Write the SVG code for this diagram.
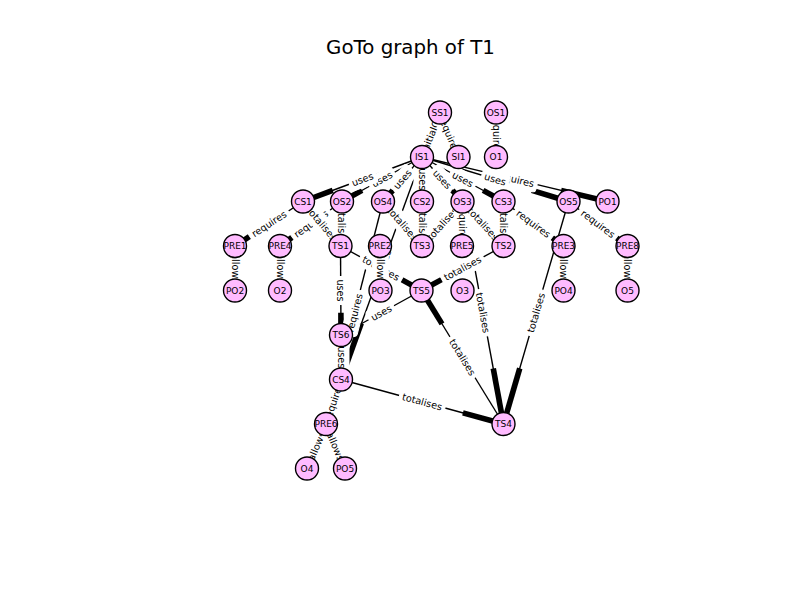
<svg xmlns="http://www.w3.org/2000/svg" width="800" height="600" viewBox="0 0 800 600">
<style>
.e{stroke:#000;stroke-width:1.4;fill:none}
.a{stroke:#000;stroke-width:5.6;fill:none}
.l rect{fill:#fff;stroke:#fff}
.l text{font-family:"DejaVu Sans",sans-serif;font-size:9.7px;text-anchor:middle;dominant-baseline:central;fill:#000}
.n circle{fill:#ffbbff;stroke:#000;stroke-width:1.4}
.n text{font-family:"DejaVu Sans",sans-serif;font-size:9px;text-anchor:middle;dominant-baseline:central;fill:#000}
.t{font-family:"DejaVu Sans",sans-serif;font-size:19.8px;text-anchor:middle;fill:#000}
</style>
<rect width="800" height="600" fill="#fff"/>
<text class="t" x="410.5" y="54">GoTo graph of T1</text>
<g id="connectors">
<g id="edge-lines">
<line class="e" x1="440" y1="112.5" x2="422" y2="157"/>
<line class="e" x1="440" y1="112.5" x2="458.5" y2="157"/>
<line class="e" x1="496" y1="112.5" x2="496" y2="157"/>
<line class="e" x1="422" y1="157" x2="303" y2="201.5"/>
<line class="e" x1="422" y1="157" x2="342" y2="201.5"/>
<line class="e" x1="422" y1="157" x2="383" y2="201.5"/>
<line class="e" x1="422" y1="157" x2="422" y2="201.5"/>
<line class="e" x1="422" y1="157" x2="462.5" y2="201.5"/>
<line class="e" x1="422" y1="157" x2="503.5" y2="201.5"/>
<line class="e" x1="422" y1="157" x2="568.5" y2="201.5"/>
<line class="e" x1="422" y1="157" x2="607.5" y2="201.5"/>
<line class="e" x1="303" y1="201.5" x2="235" y2="246"/>
<line class="e" x1="342" y1="201.5" x2="280" y2="246"/>
<line class="e" x1="303" y1="201.5" x2="340.5" y2="246"/>
<line class="e" x1="342" y1="201.5" x2="340.5" y2="246"/>
<line class="e" x1="383" y1="201.5" x2="422" y2="246"/>
<line class="e" x1="422" y1="201.5" x2="422" y2="246"/>
<line class="e" x1="462.5" y1="201.5" x2="422" y2="246"/>
<line class="e" x1="462.5" y1="201.5" x2="462" y2="246"/>
<line class="e" x1="462.5" y1="201.5" x2="503.5" y2="246"/>
<line class="e" x1="503.5" y1="201.5" x2="503.5" y2="246"/>
<line class="e" x1="503.5" y1="201.5" x2="563.5" y2="246"/>
<line class="e" x1="568.5" y1="201.5" x2="627.5" y2="246"/>
<line class="e" x1="568.5" y1="201.5" x2="503.5" y2="424"/>
<line class="e" x1="462.5" y1="201.5" x2="503.5" y2="424"/>
<line class="e" x1="503.5" y1="424" x2="421.5" y2="290.5"/>
<line class="e" x1="341" y1="379.5" x2="503.5" y2="424"/>
<line class="e" x1="503.5" y1="246" x2="421.5" y2="290.5"/>
<line class="e" x1="340.5" y1="246" x2="421.5" y2="290.5"/>
<line class="e" x1="340.5" y1="246" x2="341" y2="335"/>
<line class="e" x1="421.5" y1="290.5" x2="341" y2="335"/>
<line class="e" x1="341" y1="335" x2="341" y2="379.5"/>
<line class="e" x1="341" y1="379.5" x2="326" y2="424"/>
<line class="e" x1="326" y1="424" x2="307" y2="468.5"/>
<line class="e" x1="326" y1="424" x2="345" y2="468.5"/>
<line class="e" x1="235" y1="246" x2="235" y2="290.5"/>
<line class="e" x1="280" y1="246" x2="280" y2="290.5"/>
<line class="e" x1="380" y1="246" x2="380.5" y2="290.5"/>
<line class="e" x1="563.5" y1="246" x2="563.5" y2="290.5"/>
<line class="e" x1="627.5" y1="246" x2="627.5" y2="290.5"/>
<line class="e" x1="383" y1="201.5" x2="326" y2="424"/>
<line class="e" x1="422" y1="157" x2="341" y2="379.5"/>
</g>
<g id="edge-heads">
<line class="a" x1="426.5" y1="145.9" x2="422" y2="157"/>
<line class="a" x1="453.9" y1="145.9" x2="458.5" y2="157"/>
<line class="a" x1="496" y1="145.9" x2="496" y2="157"/>
<line class="a" x1="332.75" y1="190.4" x2="303" y2="201.5"/>
<line class="a" x1="362" y1="190.4" x2="342" y2="201.5"/>
<line class="a" x1="392.75" y1="190.4" x2="383" y2="201.5"/>
<line class="a" x1="422" y1="190.4" x2="422" y2="201.5"/>
<line class="a" x1="452.4" y1="190.4" x2="462.5" y2="201.5"/>
<line class="a" x1="483.1" y1="190.4" x2="503.5" y2="201.5"/>
<line class="a" x1="531.9" y1="190.4" x2="568.5" y2="201.5"/>
<line class="a" x1="561.1" y1="190.4" x2="607.5" y2="201.5"/>
<line class="a" x1="252" y1="234.9" x2="235" y2="246"/>
<line class="a" x1="295.5" y1="234.9" x2="280" y2="246"/>
<line class="a" x1="331.1" y1="234.9" x2="340.5" y2="246"/>
<line class="a" x1="340.9" y1="234.9" x2="340.5" y2="246"/>
<line class="a" x1="412.25" y1="234.9" x2="422" y2="246"/>
<line class="a" x1="422" y1="234.9" x2="422" y2="246"/>
<line class="a" x1="432.1" y1="234.9" x2="422" y2="246"/>
<line class="a" x1="462.1" y1="234.9" x2="462" y2="246"/>
<line class="a" x1="493.25" y1="234.9" x2="503.5" y2="246"/>
<line class="a" x1="503.5" y1="234.9" x2="503.5" y2="246"/>
<line class="a" x1="548.5" y1="234.9" x2="563.5" y2="246"/>
<line class="a" x1="612.75" y1="234.9" x2="627.5" y2="246"/>
<line class="a" x1="519.75" y1="368.4" x2="503.5" y2="424"/>
<line class="a" x1="493.25" y1="368.4" x2="503.5" y2="424"/>
<line class="a" x1="442" y1="323.9" x2="421.5" y2="290.5"/>
<line class="a" x1="462.9" y1="412.9" x2="503.5" y2="424"/>
<line class="a" x1="442" y1="279.4" x2="421.5" y2="290.5"/>
<line class="a" x1="401.25" y1="279.4" x2="421.5" y2="290.5"/>
<line class="a" x1="340.9" y1="312.75" x2="341" y2="335"/>
<line class="a" x1="361.1" y1="323.9" x2="341" y2="335"/>
<line class="a" x1="341" y1="368.4" x2="341" y2="379.5"/>
<line class="a" x1="329.75" y1="412.9" x2="326" y2="424"/>
<line class="a" x1="311.75" y1="457.4" x2="307" y2="468.5"/>
<line class="a" x1="340.25" y1="457.4" x2="345" y2="468.5"/>
<line class="a" x1="235" y1="279.4" x2="235" y2="290.5"/>
<line class="a" x1="280" y1="279.4" x2="280" y2="290.5"/>
<line class="a" x1="380.4" y1="279.4" x2="380.5" y2="290.5"/>
<line class="a" x1="563.5" y1="279.4" x2="563.5" y2="290.5"/>
<line class="a" x1="627.5" y1="279.4" x2="627.5" y2="290.5"/>
<line class="a" x1="340.25" y1="368.4" x2="326" y2="424"/>
<line class="a" x1="361.25" y1="323.4" x2="341" y2="379.5"/>
</g>
<g id="edge-labels" class="l">
<g transform="translate(381.5,268.25) rotate(-70)"><rect x="-23" y="-8" width="46" height="16" rx="3"/><text>requires</text></g>
<g transform="translate(431,134.75) rotate(-68)"><rect x="-22" y="-8" width="44" height="16" rx="3"/><text>initialOf</text></g>
<g transform="translate(449.25,134.75) rotate(67.4)"><rect x="-23" y="-8" width="46" height="16" rx="3"/><text>requires</text></g>
<g transform="translate(496,134.75) rotate(90)"><rect x="-23" y="-8" width="46" height="16" rx="3"/><text>requires</text></g>
<g transform="translate(382,179.25) rotate(-29.1)"><rect x="-14" y="-8" width="28" height="16" rx="3"/><text>uses</text></g>
<g transform="translate(362.5,179.25) rotate(-20.5)"><rect x="-14" y="-8" width="28" height="16" rx="3"/><text>uses</text></g>
<g transform="translate(402.5,179.25) rotate(-48.8)"><rect x="-14" y="-8" width="28" height="16" rx="3"/><text>uses</text></g>
<g transform="translate(422,179.25) rotate(90)"><rect x="-14" y="-8" width="28" height="16" rx="3"/><text>uses</text></g>
<g transform="translate(442.25,179.25) rotate(47.7)"><rect x="-14" y="-8" width="28" height="16" rx="3"/><text>uses</text></g>
<g transform="translate(462.75,179.25) rotate(28.6)"><rect x="-14" y="-8" width="28" height="16" rx="3"/><text>uses</text></g>
<g transform="translate(514.75,179.25) rotate(13.5)"><rect x="-23" y="-8" width="46" height="16" rx="3"/><text>requires</text></g>
<g transform="translate(495.25,179.25) rotate(16.9)"><rect x="-14" y="-8" width="28" height="16" rx="3"/><text>uses</text></g>
<g transform="translate(269,223.75) rotate(-33.2)"><rect x="-23" y="-8" width="46" height="16" rx="3"/><text>requires</text></g>
<g transform="translate(311,223.75) rotate(-35.7)"><rect x="-23" y="-8" width="46" height="16" rx="3"/><text>requires</text></g>
<g transform="translate(321.75,223.75) rotate(49.9)"><rect x="-23.5" y="-8" width="47" height="16" rx="3"/><text>totalises</text></g>
<g transform="translate(341.25,223.75) rotate(90)"><rect x="-23.5" y="-8" width="47" height="16" rx="3"/><text>totalises</text></g>
<g transform="translate(402.5,223.75) rotate(48.8)"><rect x="-23.5" y="-8" width="47" height="16" rx="3"/><text>totalises</text></g>
<g transform="translate(422,223.75) rotate(90)"><rect x="-23.5" y="-8" width="47" height="16" rx="3"/><text>totalises</text></g>
<g transform="translate(442.25,223.75) rotate(-47.7)"><rect x="-23.5" y="-8" width="47" height="16" rx="3"/><text>totalises</text></g>
<g transform="translate(462.25,223.75) rotate(90)"><rect x="-23" y="-8" width="46" height="16" rx="3"/><text>requires</text></g>
<g transform="translate(483,223.75) rotate(47.3)"><rect x="-23.5" y="-8" width="47" height="16" rx="3"/><text>totalises</text></g>
<g transform="translate(503.5,223.75) rotate(90)"><rect x="-23.5" y="-8" width="47" height="16" rx="3"/><text>totalises</text></g>
<g transform="translate(533.5,223.75) rotate(36.6)"><rect x="-23" y="-8" width="46" height="16" rx="3"/><text>requires</text></g>
<g transform="translate(598,223.75) rotate(37)"><rect x="-23" y="-8" width="46" height="16" rx="3"/><text>requires</text></g>
<g transform="translate(536,312.75) rotate(-73.7)"><rect x="-23.5" y="-8" width="47" height="16" rx="3"/><text>totalises</text></g>
<g transform="translate(483,312.75) rotate(79.6)"><rect x="-23.5" y="-8" width="47" height="16" rx="3"/><text>totalises</text></g>
<g transform="translate(462.5,357.25) rotate(58.4)"><rect x="-23.5" y="-8" width="47" height="16" rx="3"/><text>totalises</text></g>
<g transform="translate(422.25,401.75) rotate(15.3)"><rect x="-23.5" y="-8" width="47" height="16" rx="3"/><text>totalises</text></g>
<g transform="translate(462.5,268.25) rotate(-28.5)"><rect x="-23.5" y="-8" width="47" height="16" rx="3"/><text>totalises</text></g>
<g transform="translate(381,268.25) rotate(28.8)"><rect x="-23.5" y="-8" width="47" height="16" rx="3"/><text>totalises</text></g>
<g transform="translate(340.75,290.5) rotate(90)"><rect x="-14" y="-8" width="28" height="16" rx="3"/><text>uses</text></g>
<g transform="translate(381.25,312.75) rotate(-28.9)"><rect x="-14" y="-8" width="28" height="16" rx="3"/><text>uses</text></g>
<g transform="translate(341,357.25) rotate(90)"><rect x="-14" y="-8" width="28" height="16" rx="3"/><text>uses</text></g>
<g transform="translate(354.5,312.75) rotate(-75.6)"><rect x="-23" y="-8" width="46" height="16" rx="3"/><text>requires</text></g>
<g transform="translate(333.5,401.75) rotate(-71.4)"><rect x="-23" y="-8" width="46" height="16" rx="3"/><text>requires</text></g>
<g transform="translate(316.5,446.25) rotate(-66.9)"><rect x="-18" y="-8" width="36" height="16" rx="3"/><text>allows</text></g>
<g transform="translate(335.5,446.25) rotate(66.9)"><rect x="-18" y="-8" width="36" height="16" rx="3"/><text>allows</text></g>
<g transform="translate(235,268.25) rotate(90)"><rect x="-18" y="-8" width="36" height="16" rx="3"/><text>allows</text></g>
<g transform="translate(280,268.25) rotate(90)"><rect x="-18" y="-8" width="36" height="16" rx="3"/><text>allows</text></g>
<g transform="translate(380.25,268.25) rotate(90)"><rect x="-18" y="-8" width="36" height="16" rx="3"/><text>allows</text></g>
<g transform="translate(563.5,268.25) rotate(90)"><rect x="-18" y="-8" width="36" height="16" rx="3"/><text>allows</text></g>
<g transform="translate(627.5,268.25) rotate(90)"><rect x="-18" y="-8" width="36" height="16" rx="3"/><text>allows</text></g>
</g>
</g>
<g id="nodes" class="n">
<g id="SS1"><circle cx="440" cy="112.5" r="11.5"/><text x="440" y="112.5">SS1</text></g>
<g id="OS1"><circle cx="496" cy="112.5" r="11.5"/><text x="496" y="112.5">OS1</text></g>
<g id="IS1"><circle cx="422" cy="157" r="11.5"/><text x="422" y="157">IS1</text></g>
<g id="SI1"><circle cx="458.5" cy="157" r="11.5"/><text x="458.5" y="157">SI1</text></g>
<g id="O1"><circle cx="496" cy="157" r="11.5"/><text x="496" y="157">O1</text></g>
<g id="CS1"><circle cx="303" cy="201.5" r="11.5"/><text x="303" y="201.5">CS1</text></g>
<g id="OS2"><circle cx="342" cy="201.5" r="11.5"/><text x="342" y="201.5">OS2</text></g>
<g id="OS4"><circle cx="383" cy="201.5" r="11.5"/><text x="383" y="201.5">OS4</text></g>
<g id="CS2"><circle cx="422" cy="201.5" r="11.5"/><text x="422" y="201.5">CS2</text></g>
<g id="OS3"><circle cx="462.5" cy="201.5" r="11.5"/><text x="462.5" y="201.5">OS3</text></g>
<g id="CS3"><circle cx="503.5" cy="201.5" r="11.5"/><text x="503.5" y="201.5">CS3</text></g>
<g id="OS5"><circle cx="568.5" cy="201.5" r="11.5"/><text x="568.5" y="201.5">OS5</text></g>
<g id="PO1"><circle cx="607.5" cy="201.5" r="11.5"/><text x="607.5" y="201.5">PO1</text></g>
<g id="PRE1"><circle cx="235" cy="246" r="11.5"/><text x="235" y="246">PRE1</text></g>
<g id="PRE4"><circle cx="280" cy="246" r="11.5"/><text x="280" y="246">PRE4</text></g>
<g id="TS1"><circle cx="340.5" cy="246" r="11.5"/><text x="340.5" y="246">TS1</text></g>
<g id="PRE2"><circle cx="380" cy="246" r="11.5"/><text x="380" y="246">PRE2</text></g>
<g id="TS3"><circle cx="422" cy="246" r="11.5"/><text x="422" y="246">TS3</text></g>
<g id="PRE5"><circle cx="462" cy="246" r="11.5"/><text x="462" y="246">PRE5</text></g>
<g id="TS2"><circle cx="503.5" cy="246" r="11.5"/><text x="503.5" y="246">TS2</text></g>
<g id="PRE3"><circle cx="563.5" cy="246" r="11.5"/><text x="563.5" y="246">PRE3</text></g>
<g id="PRE8"><circle cx="627.5" cy="246" r="11.5"/><text x="627.5" y="246">PRE8</text></g>
<g id="PO2"><circle cx="235" cy="290.5" r="11.5"/><text x="235" y="290.5">PO2</text></g>
<g id="O2"><circle cx="280" cy="290.5" r="11.5"/><text x="280" y="290.5">O2</text></g>
<g id="PO3"><circle cx="380.5" cy="290.5" r="11.5"/><text x="380.5" y="290.5">PO3</text></g>
<g id="TS5"><circle cx="421.5" cy="290.5" r="11.5"/><text x="421.5" y="290.5">TS5</text></g>
<g id="O3"><circle cx="462.5" cy="290.5" r="11.5"/><text x="462.5" y="290.5">O3</text></g>
<g id="PO4"><circle cx="563.5" cy="290.5" r="11.5"/><text x="563.5" y="290.5">PO4</text></g>
<g id="O5"><circle cx="627.5" cy="290.5" r="11.5"/><text x="627.5" y="290.5">O5</text></g>
<g id="TS6"><circle cx="341" cy="335" r="11.5"/><text x="341" y="335">TS6</text></g>
<g id="CS4"><circle cx="341" cy="379.5" r="11.5"/><text x="341" y="379.5">CS4</text></g>
<g id="PRE6"><circle cx="326" cy="424" r="11.5"/><text x="326" y="424">PRE6</text></g>
<g id="TS4"><circle cx="503.5" cy="424" r="11.5"/><text x="503.5" y="424">TS4</text></g>
<g id="O4"><circle cx="307" cy="468.5" r="11.5"/><text x="307" y="468.5">O4</text></g>
<g id="PO5"><circle cx="345" cy="468.5" r="11.5"/><text x="345" y="468.5">PO5</text></g>
</g>
</svg>
